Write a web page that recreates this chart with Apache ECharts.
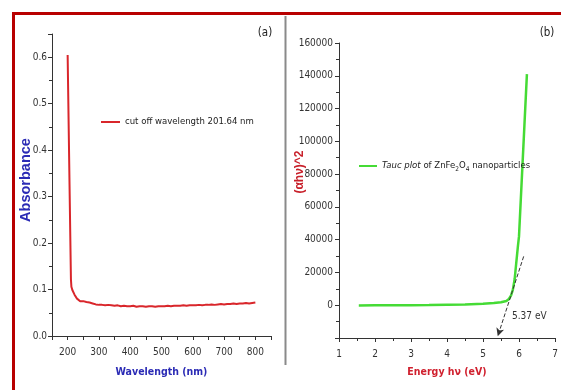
<!DOCTYPE html>
<html>
<head>
<meta charset="utf-8">
<script src="https://cdn.jsdelivr.net/npm/echarts/dist/echarts.min.js"></script>
<style>
  html, body { margin: 0; padding: 0; background: #fff; }
  #chart { width: 561px; height: 390px; }
</style>
</head>
<body>
<div id="chart"></div>
<script>
  // panel (a) absorbance spectrum
  const wavelength = [200, 203, 206, 209, 210.5, 212, 215, 218, 222, 225, 229,
    235, 240, 250, 260, 270, 280, 290, 300, 310, 320, 330, 340, 350, 360, 370, 380, 390, 400, 410, 420,
    430, 440, 450, 460, 470, 480, 490, 500, 510, 520, 530, 540, 550, 560, 570, 580, 590, 600, 610, 620,
    630, 640, 650, 660, 670, 680, 690, 700, 710, 720, 730, 740, 750, 760, 770, 780, 790, 800]
  const absorbance = [0.605, 0.466, 0.327, 0.19, 0.122, 0.106, 0.099, 0.095, 0.089, 0.085, 0.081,
    0.077, 0.075, 0.075, 0.073, 0.072, 0.070, 0.068, 0.067, 0.067, 0.066, 0.067, 0.066, 0.065, 0.066, 0.064, 0.065, 0.064, 0.064, 0.065, 0.063,
    0.064, 0.064, 0.063, 0.064, 0.064, 0.063, 0.064, 0.064, 0.064, 0.065, 0.064, 0.065, 0.065, 0.065, 0.066, 0.065, 0.066, 0.066, 0.066, 0.067,
    0.066, 0.067, 0.067, 0.068, 0.067, 0.068, 0.069, 0.068, 0.069, 0.069, 0.070, 0.069, 0.070, 0.070, 0.071, 0.070, 0.071, 0.072]

  // panel (b) Tauc plot
  const energy = [1.55, 2.0, 2.5, 3.0, 3.5, 4.0, 4.5, 5.0, 5.3, 5.5, 5.65, 5.72, 5.78, 5.83, 5.88, 5.92, 5.97, 6.0, 6.05, 6.1, 6.15, 6.22]
  const tauc = [-100, -80, -50, 0, 100, 300, 500, 900, 1300, 1800, 2600, 3800, 6000, 9500, 16000, 25000, 36000, 42000, 64500, 87000, 109500, 141000]
  const tangent = [[6.13, 29800], [5.41, -18900]]

  const nameA = 'cut off wavelength 201.64 nm'
  const nameB = 'Tauc plot of ZnFe2O4 nanoparticles'

  // the reference uses a condensed face; use one if installed, else shrink
  function textWidth(font) {
    const ctx = document.createElement('canvas').getContext('2d')
    ctx.font = font
    return ctx.measureText('cut off wavelength 201.64 nm').width
  }
  let narrow = '"Liberation Sans", Arial, sans-serif'
  let k = 0.85
  if (textWidth('11px "Liberation Sans Narrow"') < 0.9 * textWidth('11px "Liberation Sans"')) {
    narrow = '"Liberation Sans Narrow", "Liberation Sans", sans-serif'
    k = 1
  } else if (textWidth('11px "DejaVu Sans Condensed"') < 0.95 * textWidth('11px "DejaVu Sans"')) {
    narrow = '"DejaVu Sans Condensed", sans-serif'
    k = 0.9
  }
  const fs = n => Math.round(n * k * 2) / 2

  const axisColor = '#333'

  function baseAxis() {
    return {
      axisLine: { show: true, onZero: false, lineStyle: { color: axisColor, width: 1 } },
      axisTick: { show: true, length: 4, lineStyle: { color: axisColor } },
      minorTick: { show: true, splitNumber: 2, length: 3, lineStyle: { color: axisColor } },
      splitLine: { show: false }
    }
  }

  const chart = echarts.init(document.getElementById('chart'))

  chart.setOption({
    animation: false,
    backgroundColor: '#fff',
    grid: [
      { left: 52, right: 290, top: 34, bottom: 54 },
      { left: 339, right: 6, top: 43, bottom: 52 }
    ],
    xAxis: [
      Object.assign(baseAxis(), {
        gridIndex: 0, type: 'value', min: 150, max: 850, interval: 50,
        minorTick: { show: false },
        axisLabel: { color: '#333', fontSize: fs(11), fontFamily: narrow, margin: 11,
          formatter: v => (v % 100 === 0 && v >= 200 && v <= 800) ? v : '' },
        name: 'Wavelength (nm)', nameLocation: 'middle', nameGap: 31,
        nameTextStyle: { color: '#2b2bb5', fontWeight: 'bold', fontSize: fs(11.5), fontFamily: narrow }
      }),
      Object.assign(baseAxis(), {
        gridIndex: 1, type: 'value', min: 1, max: 7, interval: 1,
        axisLabel: { color: '#333', fontSize: fs(11), fontFamily: narrow, margin: 11 },
        name: 'Energy h\u03bd (eV)', nameLocation: 'middle', nameGap: 29,
        nameTextStyle: { color: '#d0202e', fontWeight: 'bold', fontSize: fs(11.5), fontFamily: narrow }
      })
    ],
    yAxis: [
      Object.assign(baseAxis(), {
        gridIndex: 0, type: 'value', min: 0, max: 0.65, interval: 0.1,
        axisLabel: { color: '#333', fontSize: fs(11), fontFamily: narrow, margin: 5, showMaxLabel: false,
          formatter: v => Math.abs(v * 10 - Math.round(v * 10)) < 1e-6 ? v.toFixed(1) : '' }
      }),
      Object.assign(baseAxis(), {
        gridIndex: 1, type: 'value', min: -20000, max: 160000, interval: 20000,
        axisLabel: { color: '#333', fontSize: fs(11), fontFamily: narrow, margin: 6,
          formatter: v => v < 0 ? '' : v }
      })
    ],
    legend: [
      {
        data: [{ name: nameA, icon: 'rect' }], left: 101, top: 117, padding: 0,
        itemWidth: 19, itemHeight: 2,
        textStyle: { color: '#222', fontSize: fs(10.5), fontFamily: narrow }
      },
      {
        data: [{ name: nameB, icon: 'rect' }], left: 359, top: 161, padding: 0,
        itemWidth: 18, itemHeight: 2,
        formatter: () => '{i|Tauc plot} of ZnFe{s|2}O{s|4} nanoparticles',
        textStyle: {
          color: '#222', fontSize: fs(10.5), fontFamily: narrow,
          rich: {
            i: { fontStyle: 'italic', fontSize: fs(10.5), fontFamily: narrow, color: '#222' },
            s: { fontSize: fs(7), fontFamily: narrow, color: '#222', padding: [6, 0, 0, 0] }
          }
        }
      }
    ],
    series: [
      {
        name: nameA, type: 'line', xAxisIndex: 0, yAxisIndex: 0,
        symbol: 'none', color: '#d9262b',
        lineStyle: { color: '#d9262b', width: 2 },
        data: wavelength.map((w, i) => [w, absorbance[i]])
      },
      {
        name: nameB, type: 'line', xAxisIndex: 1, yAxisIndex: 1,
        symbol: 'none', color: '#45db35',
        lineStyle: { color: '#45db35', width: 2.5 },
        data: energy.map((e, i) => [e, tauc[i]]),
        markLine: {
          silent: true, animation: false,
          symbol: ['none', 'arrow'], symbolSize: [6, 8],
          label: { show: false },
          lineStyle: { type: 'dashed', color: '#333', width: 1 },
          data: [[{ coord: tangent[0] }, { coord: tangent[1] }]]
        }
      }
    ],
    graphic: [
      // red frame
      { type: 'line', shape: { x1: 12, y1: 13.5, x2: 561, y2: 13.5 }, style: { stroke: '#b80000', lineWidth: 3 } },
      { type: 'line', shape: { x1: 13.5, y1: 12, x2: 13.5, y2: 390 }, style: { stroke: '#b80000', lineWidth: 3 } },
      // separator
      { type: 'line', shape: { x1: 285.5, y1: 16, x2: 285.5, y2: 365 }, style: { stroke: '#8a8a8a', lineWidth: 2 } },
      { type: 'text', x: 265, y: 33, style: { text: '(a)', font: fs(13) + 'px ' + narrow, fill: '#222', textAlign: 'center', textVerticalAlign: 'middle' } },
      { type: 'text', x: 547, y: 33, style: { text: '(b)', font: fs(13) + 'px ' + narrow, fill: '#222', textAlign: 'center', textVerticalAlign: 'middle' } },
      { type: 'text', x: 26, y: 180, rotation: Math.PI / 2,
        style: { text: 'Absorbance', font: 'bold 14.5px "Liberation Sans", Arial, sans-serif', fill: '#2b2bb5', textAlign: 'center', textVerticalAlign: 'middle' } },
      { type: 'text', x: 300, y: 172, rotation: Math.PI / 2,
        style: { text: '(\u03b1h\u03bd)^2', font: 'bold 12px "Liberation Sans", Arial, sans-serif', fill: '#c8202a', textAlign: 'center', textVerticalAlign: 'middle' } },
      { type: 'text', x: 512, y: 316, style: { text: '5.37 eV', font: fs(11) + 'px ' + narrow, fill: '#333', textAlign: 'left', textVerticalAlign: 'middle' } }
    ]
  })
</script>
</body>
</html>
